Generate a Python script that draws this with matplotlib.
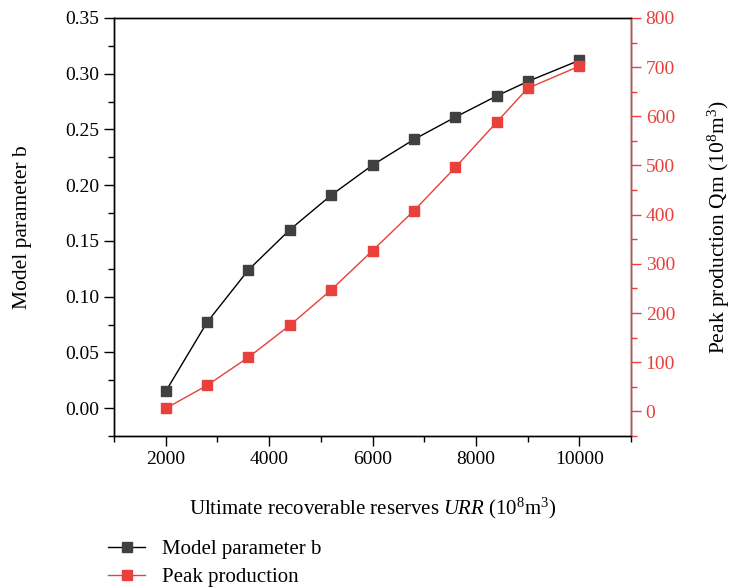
import matplotlib.pyplot as plt
from matplotlib.ticker import MultipleLocator

plt.rcParams['font.family'] = ['Liberation Serif', 'DejaVu Serif']
plt.rcParams['mathtext.fontset'] = 'custom'
plt.rcParams['mathtext.rm'] = 'Liberation Serif'
plt.rcParams['mathtext.it'] = 'Liberation Serif:italic'

urr = [2000, 2800, 3600, 4400, 5200, 6000, 6800, 7600, 8400, 9000, 10000]
param_b = [0.015, 0.077, 0.124, 0.160, 0.191, 0.218, 0.241, 0.261, 0.280, 0.293, 0.312]
peak_qm = [6, 53, 110, 175, 247, 327, 408, 496, 588, 657, 702]

RED = '#e8403a'
DARK = '#404040'

fig = plt.figure(figsize=(7.33, 5.88), dpi=100)
ax1 = fig.add_axes([0.1555, 0.2585, 0.7055, 0.711])
ax2 = ax1.twinx()

l1, = ax1.plot(urr, param_b, color='black', linewidth=1, marker='s', markersize=7,
               markerfacecolor=DARK, markeredgecolor=DARK, label='Model parameter b')
l2, = ax2.plot(urr, peak_qm, color=RED, linewidth=1, marker='s', markersize=7,
               markerfacecolor=RED, markeredgecolor=RED, label='Peak production')

ax1.set_xlim(1000, 11000)
ax1.set_ylim(-0.025, 0.35)
ax2.set_ylim(-50, 800)

ax1.xaxis.set_major_locator(MultipleLocator(2000))
ax1.xaxis.set_minor_locator(MultipleLocator(1000))
ax1.yaxis.set_major_locator(MultipleLocator(0.05))
ax1.yaxis.set_minor_locator(MultipleLocator(0.025))
ax2.yaxis.set_major_locator(MultipleLocator(100))
ax2.yaxis.set_minor_locator(MultipleLocator(50))
ax1.yaxis.set_major_formatter(plt.FormatStrFormatter('%.2f'))

ax1.tick_params(axis='both', which='major', direction='out', length=7, width=1, labelsize=14)
ax1.tick_params(axis='both', which='minor', direction='out', length=4, width=1)
ax2.tick_params(axis='y', which='major', direction='out', length=7, width=1, labelsize=14,
                colors=RED)
ax2.tick_params(axis='y', which='minor', direction='out', length=4, width=1, colors=RED)

for ax in (ax1, ax2):
    for s in ax.spines.values():
        s.set_linewidth(1)
ax2.spines['right'].set_color(RED)

ax1.set_xlabel(r'Ultimate recoverable reserves $\mathit{URR}$ (10$^{8}$m$^{3}$)', fontsize=15, labelpad=20)
ax1.set_ylabel('Model parameter b', fontsize=15.5, labelpad=24)
ax2.set_ylabel(r'Peak production Qm (10$^{8}$m$^{3}$)', fontsize=15.5, labelpad=22, rotation=90)

fig.legend(handles=[l1, l2], loc='upper left', bbox_to_anchor=(0.147, 0.082), frameon=False,
           fontsize=15, handlelength=1.8, handletextpad=0.8, labelspacing=0.38,
           borderaxespad=0, borderpad=0)

fig.savefig('out.png', dpi=100)
